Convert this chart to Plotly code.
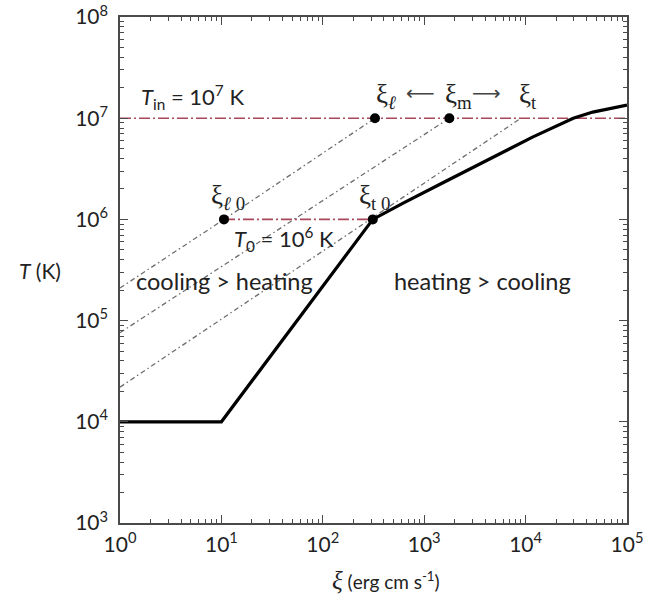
import numpy as np
import plotly.graph_objects as go

# ---- data ----
xi_curve = [1, 10, 311, 620, 1530, 4800, 11700, 29500, 46000, 100000]
T_curve = [1e4, 1e4, 1e6, 1.45e6, 2.3e6, 4.1e6, 6.5e6, 1e7, 1.15e7, 1.35e7]

xi_line1 = [1, 10.6, 327]
T_line1 = [2.1e5, 1e6, 1e7]
xi_line2 = [1, 1770]
T_line2 = [7.6e4, 1e7]
xi_line3 = [1, 9000]
T_line3 = [2.2e4, 1e7]

xi_Tin = [1, 1e5]
T_Tin = [1e7, 1e7]
xi_T0 = [10.6, 311]
T_T0 = [1e6, 1e6]

xi_dots = [10.6, 311, 327, 1770]
T_dots = [1e6, 1e6, 1e7, 1e7]

decades = [0, 1, 2, 3, 4, 5]
x_ticktext = ["10<sup>%d</sup>" % d for d in decades]
ydecades = [3, 4, 5, 6, 7, 8]
y_ticktext = ["10<sup>%d</sup>" % d for d in ydecades]

SANS = "Lato, 'Open Sans', sans-serif"
SERIF = "'Liberation Serif', 'DejaVu Serif', serif"
grey = "#6e6e6e"
red = "#a8485a"

fig = go.Figure()
for xs, ts in [(xi_line1, T_line1), (xi_line2, T_line2), (xi_line3, T_line3)]:
    fig.add_trace(go.Scatter(x=xs, y=ts, mode="lines",
                             line=dict(color=grey, width=1.3, dash="5px,3px,1.5px,3px"),
                             showlegend=False, hoverinfo="skip"))
for xs, ts in [(xi_Tin, T_Tin), (xi_T0, T_T0)]:
    fig.add_trace(go.Scatter(x=xs, y=ts, mode="lines",
                             line=dict(color=red, width=1.6, dash="11px,3px,2px,3px"),
                             showlegend=False, hoverinfo="skip"))
fig.add_trace(go.Scatter(x=xi_curve, y=T_curve, mode="lines",
                         line=dict(color="black", width=3.2),
                         showlegend=False, hoverinfo="skip"))
fig.add_trace(go.Scatter(x=xi_dots, y=T_dots, mode="markers",
                         marker=dict(color="black", size=10),
                         showlegend=False, hoverinfo="skip"))

axis_common = dict(
    type="log", showgrid=False, zeroline=False, automargin=False, ticklabeloverflow="allow",
    showline=True, linecolor="#4a4a4a", linewidth=1.5, mirror="allticks",
    ticks="inside", ticklen=8, tickwidth=1.3, tickcolor="#4a4a4a",
    minor=dict(ticks="inside", ticklen=4, tickwidth=1, tickcolor="#4a4a4a", dtick="D1", showgrid=False),
    tickfont=dict(family=SANS, size=21, color="#222"),
)
fig.update_xaxes(range=[0, 5], tickmode="array", tickvals=[10**d for d in decades],
                 ticktext=x_ticktext, ticklabelstandoff=2, **axis_common)
fig.update_yaxes(range=[3, 8], tickmode="array", tickvals=[10**d for d in ydecades],
                 ticktext=y_ticktext, ticklabelstandoff=6, **axis_common)

ann = []
def txt(x, y, text, font, xanchor="center", yanchor="middle", xshift=0, yshift=0):
    ann.append(dict(text=text, showarrow=False, font=font, xanchor=xanchor, yanchor=yanchor,
                    xshift=xshift, yshift=yshift, x=np.log10(x), y=np.log10(y), xref="x", yref="y"))

sf = dict(family=SANS, size=22, color="#222")
bf = dict(family=SANS, size=23.5, color="#222")
xf = dict(family=SERIF, size=27, color="#222")
af = dict(family="DejaVu Sans", size=20, color="#444")

txt(1.55, 1e7, "<i>T</i><sub>in</sub> = 10<sup>7</sup> K", sf, xanchor="left", yshift=21)
txt(327, 1e7, "ξ<sub><i>ℓ</i></sub>", xf, yshift=22, xshift=11)
txt(327, 1e7, "⟵", af, yshift=25, xshift=46)
txt(1770, 1e7, "ξ<sub>m</sub>", xf, yshift=22, xshift=9)
txt(1770, 1e7, "⟶", af, yshift=25, xshift=37)
txt(9000, 1e7, "ξ<sub>t</sub>", xf, yshift=22, xshift=7)
txt(10.6, 1e6, "ξ<sub><i>ℓ</i> 0</sub>", xf, yshift=22, xshift=4)
txt(311, 1e6, "ξ<sub>t 0</sub>", xf, yshift=22, xshift=2)
txt(12.7, 1e6, "<i>T</i><sub>0</sub> = 10<sup>6</sup> K", sf, xanchor="left", yshift=-20)
txt(1.36, 6.0e5, "cooling > heating", bf, xanchor="left", yshift=-39)
txt(478, 6.0e5, "heating > cooling", bf, xanchor="left", yshift=-39)

W, H = 654, 606
L, R, T, B = 120, 27, 17, 83
pw, ph = W - L - R, H - T - B
def paper(px, py):
    return (px - L) / pw, 1 - (py - T) / ph

x0, y0 = paper(40, 270)
ann.append(dict(text="<i>T</i> (K)", x=x0, y=y0, xref="paper", yref="paper", showarrow=False,
                xanchor="center", yanchor="middle",
                font=dict(family=SANS, size=21, color="#222")))
x1, y1 = paper(386, 580)
ann.append(dict(text="<i><span style='font-family:Liberation Serif;font-size:25px'>ξ</span></i> (erg cm s<sup>-1</sup>)",
                x=x1, y=y1, xref="paper", yref="paper", showarrow=False,
                xanchor="center", yanchor="middle",
                font=dict(family=SANS, size=19, color="#222")))

fig.update_layout(width=W, height=H, margin=dict(l=L, r=R, t=T, b=B, autoexpand=False),
                  plot_bgcolor="white", paper_bgcolor="white",
                  annotations=ann, showlegend=False)
fig.write_html("out.html", config={"displayModeBar": False},
               post_script="document.body.style.margin='0px';")
